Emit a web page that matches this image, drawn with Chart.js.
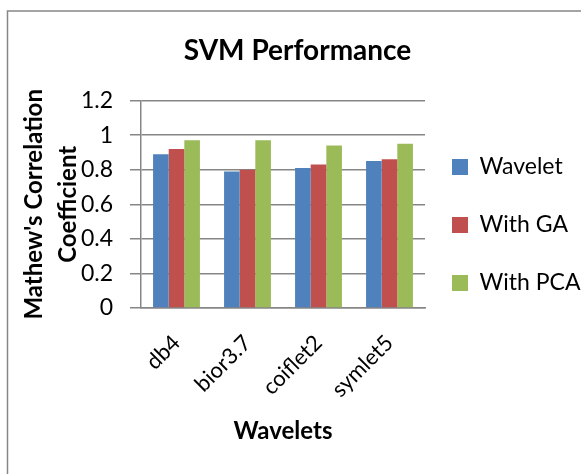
<!DOCTYPE html>
<html><head><meta charset="utf-8">
<script src="https://cdn.jsdelivr.net/npm/chart.js@4"></script>
<style>html,body{margin:0;padding:0;background:#fff}#wrap{width:581px;height:474px;position:relative}</style>
</head><body><div id="wrap"><canvas id="c" width="581" height="474"></canvas></div>
<script>
const categories = ["db4", "bior3.7", "coiflet2", "symlet5"];
const wavelet = [0.89, 0.79, 0.81, 0.85];
const withGA = [0.92, 0.80, 0.83, 0.86];
const withPCA = [0.97, 0.97, 0.94, 0.95];
const seriesNames = ["Wavelet", "With GA", "With PCA"];
const yTicks = [0, 0.2, 0.4, 0.6, 0.8, 1, 1.2];

const FONT = "Lato, 'Open Sans', sans-serif";
const GRID = '#868686';
const frame = {
  id: 'frame',
  beforeDraw(chart) {
    const ctx = chart.ctx;
    ctx.save();
    ctx.fillStyle = '#fff';
    ctx.fillRect(0, 0, chart.width, chart.height);
    ctx.strokeStyle = GRID;
    ctx.lineWidth = 1.5;
    ctx.strokeRect(7.5, 11, 700, 700);
    ctx.restore();
  }
};

new Chart(document.getElementById('c'), {
  type: 'bar',
  data: {
    labels: categories,
    datasets: [
      { label: seriesNames[0], data: wavelet, backgroundColor: '#4f81bd' },
      { label: seriesNames[1], data: withGA, backgroundColor: '#c0504d' },
      { label: seriesNames[2], data: withPCA, backgroundColor: '#9bbb59' }
    ]
  },
  options: {
    responsive: false,
    animation: false,
    devicePixelRatio: 1,
    layout: { padding: { left: 14, right: 0, top: 11, bottom: 10 } },
    datasets: { bar: { categoryPercentage: 0.66, barPercentage: 1 } },
    plugins: {
      title: {
        display: true, text: 'SVM Performance', color: '#000',
        font: { family: FONT, size: 28, weight: 'bold', lineHeight: 1.2 },
        padding: { top: 23, bottom: 33 }
      },
      legend: {
        position: 'right',
        align: 'start',
        maxWidth: 156,
        title: { display: true, text: ' ', font: { size: 10, lineHeight: 1.2 }, padding: { top: 105.5, bottom: 0 } },
        labels: {
          boxWidth: 16, boxHeight: 16, padding: 27, color: '#000',
          font: { family: FONT, size: 23, lineHeight: '31px' },
          generateLabels(chart) {
            return Chart.defaults.plugins.legend.labels.generateLabels(chart)
              .map(item => Object.assign(item, { text: [item.text], lineWidth: 0 }));
          }
        }
      },
      tooltip: { enabled: false }
    },
    scales: {
      x: {
        afterFit(axis) { axis.height = 156; },
        grid: { display: false, drawTicks: false },
        border: { display: true, color: GRID, width: 1.5 },
        ticks: { color: '#000', font: { family: FONT, size: 22 }, maxRotation: 45, minRotation: 45, padding: 22 },
        title: { display: true, text: 'Wavelets', color: '#000',
          font: { family: FONT, size: 24, weight: 'bold', lineHeight: 1.2 }, padding: { top: 0, bottom: 18 } }
      },
      y: {
        min: 0, max: 1.2,
        afterFit(axis) { axis.width = 127; },
        afterBuildTicks(axis) { axis.ticks = yTicks.map(v => ({ value: v })); },
        grid: { color: GRID, lineWidth: 1.5, tickLength: 11, drawTicks: true },
        border: { display: true, color: GRID, width: 1.5 },
        ticks: { color: '#000', font: { family: FONT, size: 23 }, padding: 17,
          callback: v => String(Math.round(v * 10) / 10) },
        title: { display: true, text: ["Mathew's Correlation", 'Coefficient'], color: '#000',
          font: { family: FONT, size: 24, weight: 'bold', lineHeight: '34px' }, padding: { top: 3, bottom: 0 } }
      }
    }
  },
  plugins: [frame]
});
</script></body></html>
